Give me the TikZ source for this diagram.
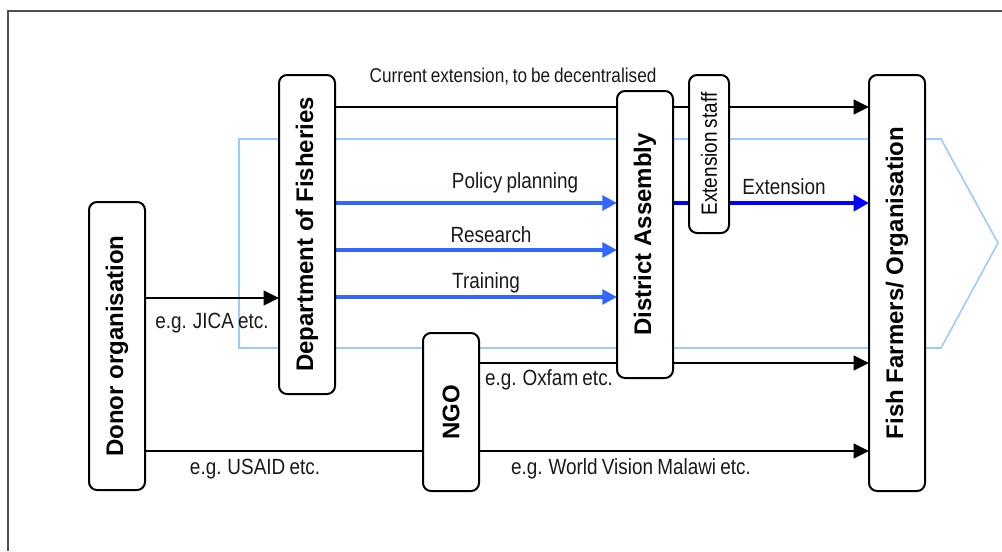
\documentclass[tikz,border=0pt]{standalone}
\usepackage{fontspec}
\setmainfont{Liberation Sans}
\newfontfamily\narrowfont[FakeStretch=0.86,WordSpace=0.8]{Liberation Sans}
\usetikzlibrary{arrows.meta,backgrounds}
\definecolor{myblue}{RGB}{51,102,255}
\definecolor{pureblue}{RGB}{0,0,255}
\definecolor{lightblue}{RGB}{153,204,255}
\definecolor{framegray}{RGB}{80,80,80}
\begin{document}
\begin{tikzpicture}[x=0.75pt,y=-0.75pt,
  box/.style={draw=black, line width=1.5pt, rounded corners=6pt, fill=white, inner sep=0pt, outer sep=0pt},
  lbl/.style={font=\narrowfont\fontsize{16.5}{18}\selectfont, inner sep=0pt, text=black!90},
  toplbl/.style={font=\narrowfont\fontsize{15}{17}\selectfont, inner sep=0pt, text=black!90},
  blk/.style={draw=black, line width=1.5pt, -{Triangle[length=11.5pt,width=11pt]}},
  bluearr/.style={draw=myblue, line width=3pt, -{Triangle[length=11pt,width=11pt]}},
  extarr/.style={draw=pureblue, line width=3pt, -{Triangle[length=11.5pt,width=12pt]}},
  scopeshape/.style={draw=lightblue, line width=1.2pt}
]
\useasboundingbox (0,0) rectangle (1002,551);

% outer frame (partly visible)
\draw[framegray, line width=1.2pt] (8,551) -- (8,11) -- (1002,11);

% boxes
\node[box, minimum width=42pt, minimum height=216pt] (donor) at (117,346)
  {\rotatebox{90}{\fontsize{18}{20}\selectfont\bfseries Donor organisation}};
\node[box, minimum width=42pt, minimum height=239.25pt] (dof) at (307,234.5)
  {\rotatebox{90}{\fontsize{18}{20}\selectfont\bfseries Department of Fisheries}};
\node[box, minimum width=42pt, minimum height=215.25pt] (da) at (645,234.5)
  {\rotatebox{90}{\fontsize{18}{20}\selectfont\bfseries District Assembly}};
\node[box, minimum width=30pt, minimum height=118.5pt] (ext) at (709,154)
  {\rotatebox{90}{\narrowfont\fontsize{16.5}{18}\selectfont Extension staff}};
\node[box, minimum width=42pt, minimum height=118.5pt] (ngo) at (451,412)
  {\rotatebox{90}{\fontsize{18}{20}\selectfont\bfseries NGO}};
\node[box, minimum width=42pt, minimum height=312pt] (fish) at (897,283)
  {\rotatebox{90}{\fontsize{18}{20}\selectfont\bfseries Fish Farmers/ Organisation}};

% levels
\coordinate (yCur) at (0,107);
\coordinate (yPol) at (0,203);
\coordinate (yRes) at (0,250);
\coordinate (yTra) at (0,297);
\coordinate (yJica) at (0,298);
\coordinate (yOx) at (0,363);
\coordinate (yUs) at (0,451);

\begin{scope}[on background layer]
  \draw[scopeshape] (239,139) -- (941,139) -- (998,243) -- (941,348) -- (239,348) -- cycle;
  \draw[blk] (dof.east |- yCur) -- (fish.west |- yCur);
  \draw[bluearr] (dof.east |- yPol) -- (da.west |- yPol);
  \draw[bluearr] (dof.east |- yRes) -- (da.west |- yRes);
  \draw[bluearr] (dof.east |- yTra) -- (da.west |- yTra);
  \draw[extarr] (da.east |- yPol) -- (fish.west |- yPol);
  \draw[blk] (donor.east |- yJica) -- (dof.west |- yJica);
  \draw[blk] (ngo.east |- yOx) -- (fish.west |- yOx);
  \draw[blk] (donor.east |- yUs) -- (fish.west |- yUs);
\end{scope}

% labels
\node[toplbl] (lcur) at (513,77) {Current extension, to be decentralised};
\node[lbl] (lpol) at (515,183) {Policy planning};
\node[lbl] (lres) at (491,235) {Research};
\node[lbl] (ltra) at (486,283) {Training};
\node[lbl] (lext) at (784,187) {Extension};
\node[lbl] (ljica) at (212,323) {e.g. JICA etc.};
\node[lbl] (lox) at (549,380) {e.g. Oxfam etc.};
\node[lbl] (lus) at (255,469) {e.g. USAID etc.};
\node[lbl] (lwv) at (631,469) {e.g. World Vision Malawi etc.};
\end{tikzpicture}
\end{document}
